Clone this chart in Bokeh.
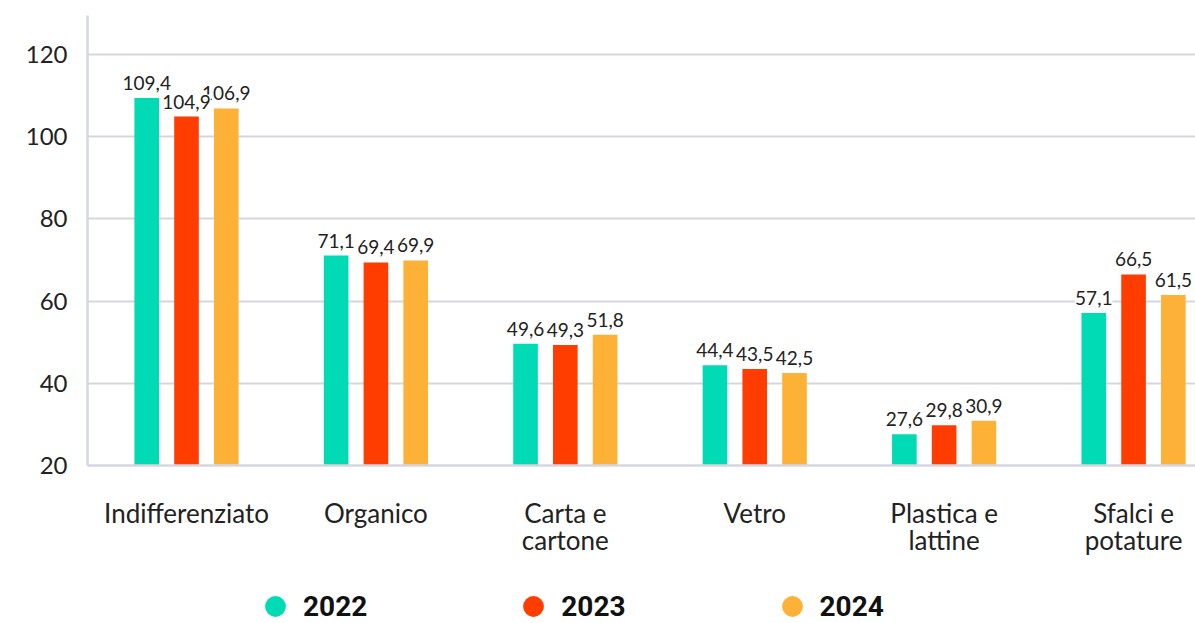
from bokeh.plotting import figure
from bokeh.models import (ColumnDataSource, LabelSet, Legend, LegendItem, Range1d,
                          FixedTicker)
from bokeh.layouts import column
from bokeh.core.properties import value
from bokeh.embed import file_html
from bokeh.resources import INLINE

categories = ["Indifferenziato", "Organico", "Carta e\ncartone", "Vetro",
              "Plastica e\nlattine", "Sfalci e\npotature"]
years = ["2022", "2023", "2024"]
values_2022 = [109.4, 71.1, 49.6, 44.4, 27.6, 57.1]
values_2023 = [104.9, 69.4, 49.3, 43.5, 29.8, 66.5]
values_2024 = [106.9, 69.9, 51.8, 42.5, 30.9, 61.5]
y_ticks = [20, 40, 60, 80, 100, 120]

series = [values_2022, values_2023, values_2024]
colors = ["#00DBB6", "#FF3D00", "#FDB237"]
offsets = [-0.21, 0.0, 0.21]

FONT = "Lato"
GRID = "#d6d6e0"

p = figure(width=1195, height=558, output_backend="svg", toolbar_location=None,
           x_range=Range1d(-0.5227, 5.327), y_range=Range1d(20, 129.5),
           min_border_left=87, min_border_top=15, min_border_right=0,
           min_border_bottom=81)
p.outline_line_color = None
p.background_fill_color = "white"
p.border_fill_color = "white"

idx = list(range(len(categories)))
for yr, vals, col, off in zip(years, series, colors, offsets):
    src = ColumnDataSource(dict(x=[i + off for i in idx], top=vals))
    p.vbar(x="x", top="top", bottom=20, width=0.13, source=src,
           fill_color=col, line_color=None)

label_order = [2, 0, 1]
for k in label_order:
    vals = series[k]
    src = ColumnDataSource(dict(
        x=[i + offsets[k] for i in idx], y=vals,
        lab=[f"{v:.1f}".replace(".", ",") for v in vals]))
    ls = LabelSet(x="x", y="y", text="lab", source=src, text_align="center",
                  text_baseline="alphabetic", y_offset=8,
                  text_font=value(FONT), text_font_size="19px",
                  text_color="#222222", background_fill_color="white")
    p.add_layout(ls)

# axes
p.xaxis.ticker = FixedTicker(ticks=idx)
p.xaxis.major_label_overrides = {i: c for i, c in zip(idx, categories)}
p.xaxis.major_label_text_font = FONT
p.xaxis.major_label_text_font_size = "26px"
p.xaxis.major_label_text_color = "#222222"
p.xaxis.major_label_text_line_height = 0.85
p.xaxis.major_label_standoff = 25
p.xaxis.major_tick_line_color = None
p.xaxis.minor_tick_line_color = None
p.xaxis.axis_line_color = GRID
p.xaxis.axis_line_width = 2.5

p.yaxis.ticker = FixedTicker(ticks=y_ticks)
p.yaxis.major_label_text_font = FONT
p.yaxis.major_label_text_font_size = "24px"
p.yaxis.major_label_text_color = "#222222"
p.yaxis.major_label_standoff = 14
p.yaxis.major_tick_line_color = None
p.yaxis.minor_tick_line_color = None
p.yaxis.axis_line_color = GRID
p.yaxis.axis_line_width = 2.5

p.xgrid.grid_line_color = None
p.ygrid.grid_line_color = GRID
p.ygrid.grid_line_width = 2

# legend strip below the chart, circle markers (proxy points kept off-range)
lg = figure(width=1195, height=65, output_backend="svg", toolbar_location=None,
            x_range=Range1d(0, 1), y_range=Range1d(0, 1),
            min_border_left=0, min_border_right=0, min_border_top=0,
            min_border_bottom=0)
lg.axis.visible = False
lg.grid.visible = False
lg.outline_line_color = None
items = []
for yr, col in zip(years, colors):
    r = lg.scatter(x=[-5], y=[-5], marker="circle", size=21, fill_color=col,
                   line_color=None)
    items.append(LegendItem(label=yr, renderers=[r]))

legend = Legend(items=items, orientation="horizontal", location=(162, -9),
                glyph_width=52, glyph_height=52, label_standoff=2, spacing=140,
                padding=0, margin=0, border_line_color=None,
                background_fill_alpha=0, label_text_font="Roboto",
                label_text_font_style="bold", label_text_font_size="28px",
                label_text_color="#111111")
lg.add_layout(legend, "center")

open("out.html", "w").write(file_html(column(p, lg), INLINE))
